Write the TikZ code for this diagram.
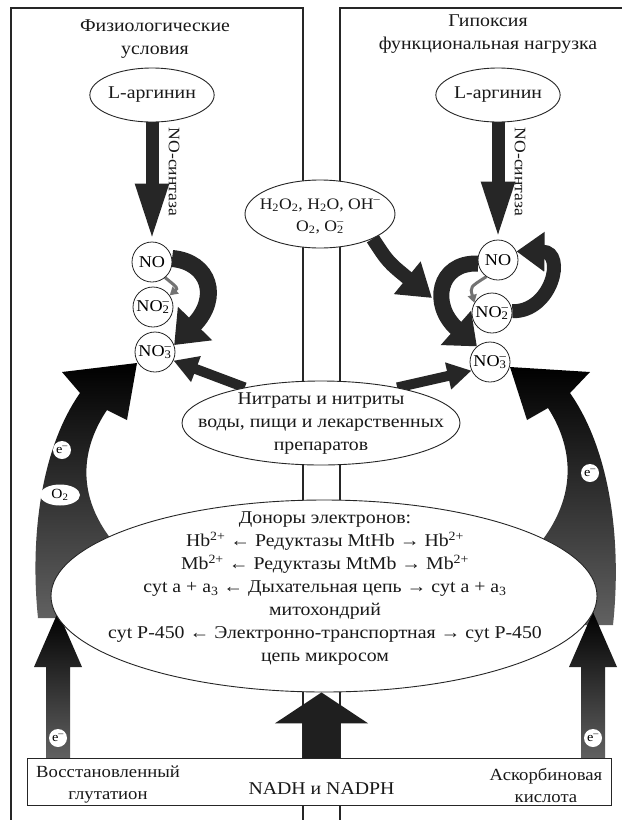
\documentclass[tikz,border=0pt]{standalone}
\usepackage{fontspec}
\setmainfont{Liberation Serif}[FakeStretch=1.1]
\usetikzlibrary{arrows.meta,shapes.geometric,calc}
\pgfdeclarelayer{bg}
\pgfsetlayers{bg,main}
\newcommand\nox[1]{NO\rlap{\textsuperscript{–}}\textsubscript{#1}}
\begin{document}
\begin{tikzpicture}[x=1pt,y=-1pt,
  panel/.style={line width=1.1pt, draw=black!85},
  oval/.style={ellipse, draw=black!85, fill=white, line width=0.9pt, inner sep=0pt},
  mol/.style={circle, draw=black!85, fill=white, minimum size=40pt, inner sep=0pt, line width=0.8pt, font=\fontsize{16.5}{16.5}\selectfont},
  txt/.style={font=\fontsize{18}{23}\selectfont, align=center, text=black!90},
  tag/.style={circle, fill=white, inner sep=0pt, minimum size=18pt, font=\fontsize{13}{13}\selectfont},
  fatarrow/.style={draw=black!85, line width=14pt},
  thinarrow/.style={draw=black!55, line width=3pt, -{Triangle[width=9pt,length=8pt]}},
]
\useasboundingbox (0,0) rectangle (622,820);

% ---------- nodes ----------
\node[txt] (titleL) at (155,39) {Физиологические\\условия};
\node[txt] (titleR) at (488,34) {Гипоксия\\функциональная нагрузка};

\node[oval, minimum width=124pt, minimum height=54pt, txt] (argL) at (152,95) {L-аргинин};
\node[oval, minimum width=124pt, minimum height=54pt, txt] (argR) at (498,95) {L-аргинин};

\node[mol] (noL) at (152,262) {NO};
\node[mol] (no2L) at (153,307) {\nox{2}};
\node[mol] (no3L) at (155,352) {\nox{3}};
\node[mol] (noR) at (498,260) {NO};
\node[mol] (no2R) at (492,313) {\nox{2}};
\node[mol] (no3R) at (490,362) {\nox{3}};

\node[txt, rotate=-90, font=\fontsize{16}{16}\selectfont] (synL) at (174,172) {NO-синтаза};
\node[txt, rotate=-90, font=\fontsize{16}{16}\selectfont] (synR) at (520,172) {NO-синтаза};

\node[oval, minimum width=150pt, minimum height=68pt] (h2o2) at (320,214) {};
\node[txt, font=\fontsize{16}{22}\selectfont] (h2o2t) at (320,216) {H\textsubscript{2}O\textsubscript{2}, H\textsubscript{2}O, OH\textsuperscript{–}\\O\textsubscript{2}, O\rlap{\textsuperscript{–}}\textsubscript{2}};

\node[oval, minimum width=278pt, minimum height=84pt] (nitr) at (321,423) {};
\node[txt] (nitrt) at (321,424) {Нитраты и нитриты\\воды, пищи и лекарственных\\препаратов};

\node[oval, minimum width=546pt, minimum height=192pt] (donor) at (324,596) {};
\node[txt] (donort) at (325,589) {Доноры электронов:\\
Hb\textsuperscript{2+} ← Редуктазы MtHb → Hb\textsuperscript{2+}\\
Mb\textsuperscript{2+} ← Редуктазы MtMb → Mb\textsuperscript{2+}\\
cyt a + a\textsubscript{3} ← Дыхательная цепь → cyt a + a\textsubscript{3}\\
митохондрий\\
cyt P-450 ← Электронно-транспортная → cyt P-450\\
цепь микросом};

\node[draw=black!85, line width=1pt, fill=white, minimum width=584pt, minimum height=47pt, inner sep=0pt] (box) at (319,782) {};
\node[txt, font=\fontsize{17}{22}\selectfont] (glut) at (108,785) {Восстановленный\\глутатион};
\node[txt] (nadh) at (321.5,789) {NADH и NADPH};
\node[txt, font=\fontsize{17}{22}\selectfont] (asc) at (546,785) {Аскорбиновая\\кислота};

\coordinate (tipL) at (58,612);
\coordinate (tipR) at (593,612);
\coordinate (hTip) at (432,298);

% tags on the big arrows
\node[tag] (eL1) at (62,450) {e\textsuperscript{–}};
\node[ellipse, fill=white, inner sep=0pt, minimum width=40pt, minimum height=21pt, font=\fontsize{14}{14}\selectfont] (o2L) at (60,495) {O\textsubscript{2}};
\node[tag] (eR1) at (590,473) {e\textsuperscript{–}};
\node[tag] (eL2) at (58,738) {e\textsuperscript{–}};
\node[tag] (eR2) at (593,738) {e\textsuperscript{–}};

% ---------- background: frames and arrows ----------
\begin{pgfonlayer}{bg}
\fill[white] (0,0) rectangle (622,820);
\draw[panel] (11,820) -- (11,8) -- (303,8) -- (303,820);
\draw[panel] (340,820) -- (340,8) -- (622,8);

% big side arcs
\shade[top color=black, bottom color=black!62]
  (38,618) .. controls (30,540) and (40,450) .. (80,393) -- (62,372) -- (137,363)
  -- (127,420) -- (107,410) .. controls (80,450) and (72,505) .. (130,560)
  -- (110,618) -- cycle;
\shade[top color=black, bottom color=black!62]
  (613,625) .. controls (622,540) and (610,450) .. (570,393) -- (590,372) -- (510,367)
  -- (527,420) -- (548,408) .. controls (575,450) and (580,505) .. (525,560)
  -- (545,625) -- cycle;

% bottom vertical arrows
\shade[top color=black, bottom color=black!62]
  (tipL) -- ++(24,55) -- ++(-12,0) -- ($(box.north -| tipL)+(12,0)$)
  -- ($(box.north -| tipL)+(-12,0)$) -- ($(tipL)+(-12,55)$) -- ++(-12,0) -- cycle;
\shade[top color=black, bottom color=black!62]
  (tipR) -- ++(24,55) -- ++(-12,0) -- ($(box.north -| tipR)+(12,0)$)
  -- ($(box.north -| tipR)+(-12,0)$) -- ($(tipR)+(-12,55)$) -- ++(-12,0) -- cycle;
\draw[draw=black!88, line width=37pt, -{Triangle[width=92pt,length=31pt]}]
  (box.north -| nadh) -- (nadh |- donor.south);

% NO-synthase arrows
\draw[fatarrow, line width=13pt, -{Triangle[width=30pt,length=58pt]}] (argL.south) -- (noL.north);
\draw[fatarrow, line width=13pt, -{Triangle[width=30pt,length=58pt]}] (argR.south) -- (noR.north);

% left cycle
\draw[fatarrow, line width=17pt, -{Triangle[width=46pt,length=30pt]}]
  (noL.10) .. controls (210,262) and (220,298) .. (no3L.20);
\draw[thinarrow] (noL.-50) .. controls (178,288) .. (no2L.35);

% right cycle
\draw[fatarrow, line width=16pt, -{Triangle[width=44pt,length=28pt]}]
  (noR.190) .. controls (438,262) and (430,305) .. (no3R.130);
\draw[fatarrow, line width=14pt, -{Triangle[width=38pt,length=28pt]}]
  (no2R.5) .. controls (552,312) and (566,252) .. (noR.25);
\draw[thinarrow] (noR.235) .. controls (470,287) .. (no2R.150);

% H2O2 arrow
\draw[fatarrow, line width=14pt, -{Triangle[width=40pt,length=32pt]}]
  (h2o2.-25) .. controls (388,262) .. (hTip);

% nitrate arrows
\draw[fatarrow, line width=10pt, -{Triangle[width=26pt,length=24pt]}] (nitr.155) -- (no3L.-25);
\draw[fatarrow, line width=10pt, -{Triangle[width=26pt,length=24pt]}] (nitr.25) -- (no3R.205);
\end{pgfonlayer}
\end{tikzpicture}
\end{document}
